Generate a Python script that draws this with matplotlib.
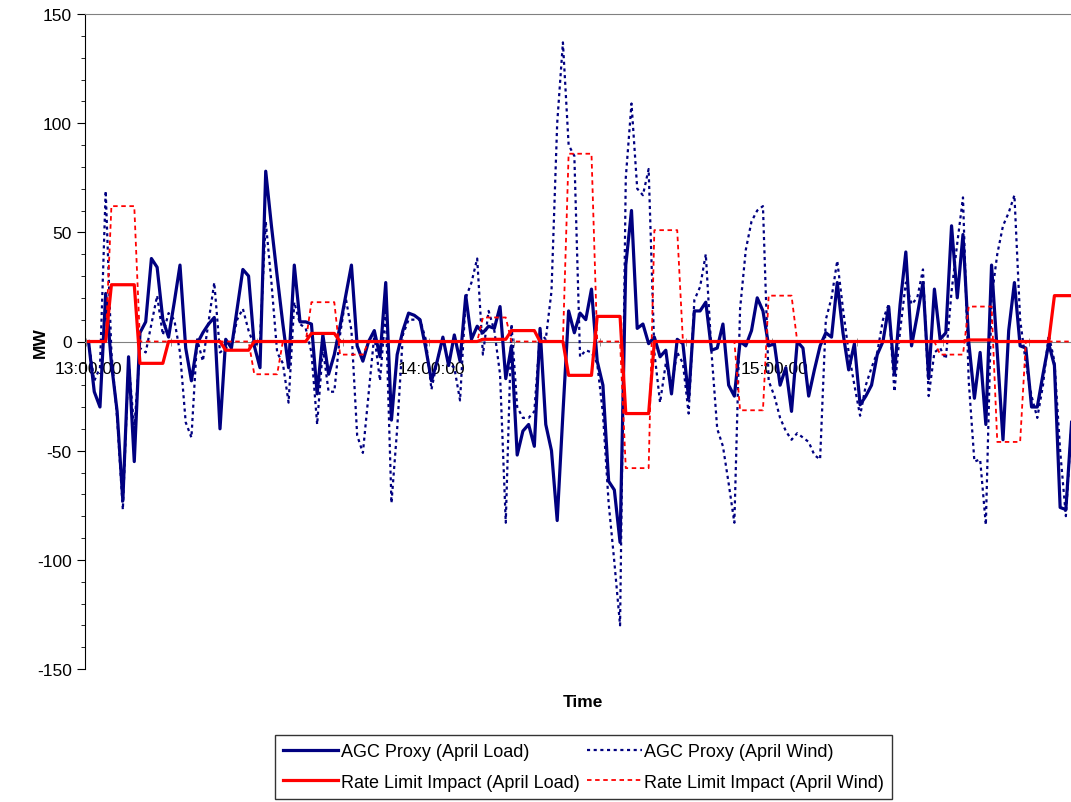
import numpy as np
import matplotlib.pyplot as plt
from matplotlib.ticker import FixedLocator, MultipleLocator

plt.rcParams['font.family'] = ['Liberation Sans', 'DejaVu Sans']
plt.rcParams['axes.unicode_minus'] = False

# one value per minute, starting 13:00
agc_load = [
    0, -23, -30, 22, -10, -32, -73, -7, -55, 4,
    9, 38, 34, 10, 2, 18, 35, -3, -18, -1,
    4, 8, 11, -40, 1, -3, 15, 33, 30, -2,
    -12, 78, 53, 30, 8, -12, 35, 9, 9, 8,
    -24, 3, -15, -6, 7, 21, 35, -2, -9, 0,
    5, -7, 27, -36, -6, 5, 13, 12, 10, -3,
    -18, -9, 2, -11, 3, -9, 21, 1, 7, 4,
    7, 6, 16, -17, -2, -52, -41, -38, -48, 6,
    -38, -50, -82, -33, 14, 4, 13, 10, 24, -9,
    -20, -64, -68, -92, 35, 60, 6, 8, -1, 2,
    -7, -4, -24, 1, -1, -26, 14, 14, 18, -4,
    -3, 8, -20, -25, 0, -2, 5, 20, 14, -2,
    -1, -20, -12, -32, 0, -3, -25, -13, -2, 4,
    2, 27, 4, -13, -1, -29, -25, -20, -6, 0,
    16, -15, 17, 41, -2, 12, 27, -17, 24, 1,
    4, 53, 20, 49, 0, -26, -5, -38, 35, -5,
    -45, 5, 27, -2, -3, -30, -30, -15, -1, -11,
    -76, -77, -37,
]

agc_wind = [
    0, -18, -12, 69, -5, -35, -77, -9, -40, -3,
    -5, 8, 21, 3, 13, 10, -5, -37, -44, 1,
    -9, 9, 27, -5, -3, -2, 10, 15, 5, -2,
    0, 55, 27, -5, -10, -28, 18, 8, 6, -5,
    -38, -3, -23, -23, 3, 20, 5, -43, -51, -24,
    3, -18, 15, -74, -40, 3, 10, 10, 10, 1,
    -22, -9, 1, -10, -12, -27, 20, 27, 38, -6,
    14, 5, -15, -83, 8, -30, -35, -35, -32, 4,
    1, 23, 100, 137, 90, 85, -7, -4, -5, -10,
    -33, -74, -101, -130, 75, 109, 70, 67, 79, -5,
    -28, -10, -20, -5, -10, -33, 19, 25, 40, -5,
    -40, -48, -65, -83, 15, 42, 55, 60, 62, -18,
    -25, -35, -41, -45, -42, -44, -46, -52, -54, 10,
    20, 37, 15, -5, -20, -34, -20, -12, -5, 10,
    17, -23, 5, 27, 17, 20, 33, -25, -5, -3,
    -8, 23, 45, 66, -18, -55, -54, -84, 20, 40,
    53, 59, 67, 10, -10, -25, -35, -20, 3, -9,
    -50, -80, -37,
]

# rate limit impact, held in 5 minute blocks
rate_load = ([0] * 4 + [26] * 5 + [-10] * 5 + [0] * 10 + [-4] * 5 + [0] * 10
             + [3.7] * 5 + [0] * 25 + [1] * 5 + [5] * 5 + [0] * 5 + [-15.5] * 5
             + [11.5] * 5 + [-33] * 5 + [0] * 55 + [0.7] * 5 + [0] * 10 + [21] * 4)

rate_wind = ([0] * 4 + [62] * 5 + [0] * 20 + [-15] * 5 + [0] * 5 + [18] * 5
             + [-6] * 5 + [0] * 20 + [11] * 5 + [0] * 10 + [86] * 5 + [0] * 5
             + [-58] * 5 + [51] * 5 + [0] * 10 + [-31.5] * 5 + [21] * 5 + [0] * 25
             + [-6] * 5 + [16] * 5 + [-46] * 5 + [0] * 9)

minutes = np.arange(len(agc_load))
hour_pos = [0, 60, 120]
hour_labels = ["13:00:00", "14:00:00", "15:00:00"]

fig = plt.figure(figsize=(10.71, 8.03), dpi=100)
ax = fig.add_axes([85 / 1071, 133 / 803, 986 / 1071, 655 / 803])

navy = "#000080"
red = "#ff0000"
l1, = ax.plot(minutes, agc_load, color=navy, lw=2.3, zorder=3,
              label="AGC Proxy (April Load)")
l2, = ax.plot(minutes, agc_wind, color=navy, lw=1.6, ls=(0, (1.4, 1.6)), zorder=3,
              label="AGC Proxy (April Wind)")
l3, = ax.plot(minutes, rate_load, color=red, lw=2.3, zorder=4,
              label="Rate Limit Impact (April Load)")
l4, = ax.plot(minutes, rate_wind, color=red, lw=1.3, ls=(0, (2.5, 2)), zorder=4,
              label="Rate Limit Impact (April Wind)")

ax.set_xlim(-0.62, 171.9)
ax.set_ylim(-150, 150)

ax.spines['right'].set_visible(False)
ax.spines['top'].set_color('#808080')
ax.spines['left'].set_color('black')
ax.spines['bottom'].set_position(('data', 0))
ax.spines['bottom'].set_color('#808080')

ax.yaxis.set_major_locator(MultipleLocator(50))
ax.yaxis.set_minor_locator(MultipleLocator(10))
ax.tick_params(axis='y', which='major', direction='out', length=6, labelsize=12.5)
ax.tick_params(axis='y', which='minor', direction='out', length=3)

ax.xaxis.set_major_locator(FixedLocator(hour_pos))
ax.set_xticklabels(hour_labels)
ax.xaxis.set_minor_locator(FixedLocator(np.arange(-0.5, 172, 15)))
ax.tick_params(axis='x', which='major', length=0, pad=14, labelsize=12.5)
ax.tick_params(axis='x', which='minor', direction='inout', length=6, color='#808080')

fig.text(40 / 1071, 1 - 343 / 803, "MW", rotation=90, ha='center', va='center',
         fontsize=12.5, fontweight='bold')
fig.text(583 / 1071, 1 - 703 / 803, "Time", ha='center', va='center',
         fontsize=12.5, fontweight='bold')

leg = fig.legend([l1, l3, l2, l4], [l1.get_label(), l3.get_label(), l2.get_label(), l4.get_label()],
                 loc='center', bbox_to_anchor=(583.5 / 1071, 1 - 768 / 803), ncol=2,
                 fontsize=13, frameon=True, fancybox=False, handlelength=3.05,
                 handletextpad=0.12, columnspacing=0.4, borderpad=0.45, labelspacing=0.75,
                 borderaxespad=0)
leg.get_frame().set_edgecolor('black')
leg.get_frame().set_linewidth(1)

fig.savefig("out.png", dpi=100)
